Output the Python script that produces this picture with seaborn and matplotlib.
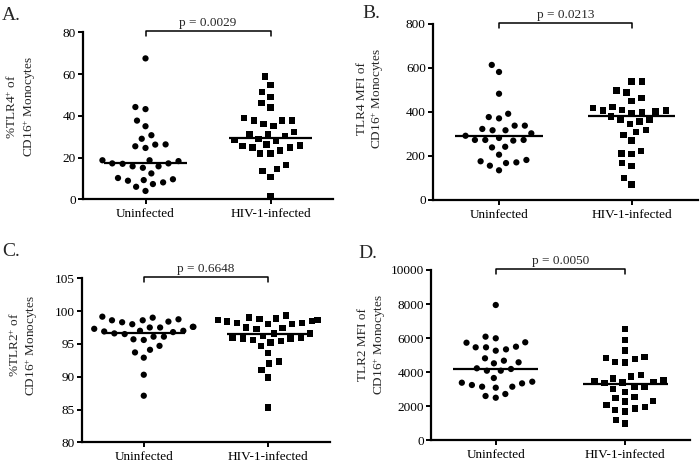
import numpy as np
import pandas as pd
import matplotlib
matplotlib.use("Agg")
import matplotlib.pyplot as plt
import seaborn as sns

sns.set_theme(style="ticks")
plt.rcParams["font.family"] = ["Liberation Serif", "DejaVu Serif"]
plt.rcParams["mathtext.fontset"] = "custom"
plt.rcParams["mathtext.rm"] = "Liberation Serif"
plt.rcParams["mathtext.it"] = "Liberation Serif:italic"
plt.rcParams["mathtext.bf"] = "Liberation Serif:bold"

groups = ["Uninfected", "HIV-1-infected"]

# Panel A: %TLR4+ of CD16+ monocytes
tlr4_pct_uninf = [67.5, 44.2, 43.2, 37.7, 35.0, 30.7, 29.0, 26.3, 26.2, 25.4, 24.6, 18.7, 18.7,
                  18.3, 17.2, 17.2, 17.0, 15.8, 15.8, 15.1, 12.4, 10.2, 9.6, 9.2, 8.9, 8.1, 7.3, 6.0, 4.0]
tlr4_pct_hiv = [58.9, 54.9, 51.4, 49.0, 46.0, 43.9, 38.8, 37.8, 37.7, 37.7, 36.2, 35.1, 32.2, 31.1,
                31.1, 30.3, 29.0, 28.3, 28.1, 26.2, 25.7, 25.4, 24.9, 24.9, 23.3, 21.9, 21.9, 16.3,
                14.4, 13.7, 10.8, 1.7]
tlr4_pct_medians = [17.3, 29.6]

# Panel B: TLR4 MFI
tlr4_mfi_uninf = [614, 582, 483, 392, 377, 371, 338, 338, 323, 317, 317, 303, 292, 282, 273, 273,
                  273, 270, 242, 239, 206, 182, 176, 171, 168, 156, 135]
tlr4_mfi_hiv = [538, 538, 497, 489, 465, 451, 424, 417, 410, 406, 406, 402, 401, 394, 379, 366, 364,
                356, 345, 318, 310, 296, 270, 224, 212, 208, 167, 155, 101, 71]
tlr4_mfi_medians = [291, 380]

# Panel C: %TLR2+
tlr2_pct_uninf = [99.15, 99.0, 98.75, 98.6, 98.6, 98.4, 98.3, 98.0, 97.6, 97.6, 97.5, 97.5, 97.3,
                  97.0, 97.0, 96.9, 96.8, 96.6, 96.5, 96.1, 96.1, 95.7, 95.6, 94.7, 94.1, 93.7,
                  92.9, 90.3, 87.1]
tlr2_pct_hiv = [99.3, 99.0, 98.9, 98.8, 98.6, 98.6, 98.5, 98.4, 98.2, 98.2, 98.0, 98.0, 97.5, 97.4,
                97.3, 96.6, 96.6, 96.2, 95.9, 95.9, 95.8, 95.8, 95.6, 95.4, 95.2, 94.7, 93.6, 92.3,
                92.0, 91.0, 89.85, 85.3]
tlr2_pct_medians = [96.7, 96.5]

# Panel D: TLR2 MFI
tlr2_mfi_uninf = [7945, 6085, 5990, 5755, 5730, 5497, 5460, 5460, 5340, 5262, 4815, 4675, 4580,
                  4520, 4228, 4187, 4087, 4087, 3658, 3440, 3382, 3343, 3247, 3147, 3147, 3089,
                  2719, 2601, 2500]
tlr2_mfi_hiv = [6518, 5890, 5262, 4909, 4850, 4756, 4615, 4557, 3834, 3736, 3640, 3541, 3500, 3440,
                3405, 3347, 3147, 3112, 3012, 2854, 2525, 2466, 2325, 2267, 2073, 1973, 1875, 1779,
                1680, 1194, 978]
tlr2_mfi_medians = [4200, 3300]

p_values = ["p = 0.0029", "p = 0.0213", "p = 0.6648", "p = 0.0050"]
panel_letters = ["A.", "B.", "C.", "D."]
y_labels = ["%TLR4$^{+}$ of\nCD16$^{+}$ Monocytes",
            "TLR4 MFI of\nCD16$^{+}$ Monocytes",
            "%TLR2$^{+}$ of\nCD16$^{+}$ Monocytes",
            "TLR2 MFI of\nCD16$^{+}$ Monocytes"]
y_limits = [(0, 80), (0, 800), (80, 105), (0, 10000)]
y_tick_sets = [[0, 20, 40, 60, 80], [0, 200, 400, 600, 800],
               [80, 85, 90, 95, 100, 105], [0, 2000, 4000, 6000, 8000, 10000]]

series = [(tlr4_pct_uninf, tlr4_pct_hiv, tlr4_pct_medians),
          (tlr4_mfi_uninf, tlr4_mfi_hiv, tlr4_mfi_medians),
          (tlr2_pct_uninf, tlr2_pct_hiv, tlr2_pct_medians),
          (tlr2_mfi_uninf, tlr2_mfi_hiv, tlr2_mfi_medians)]

W, H = 700, 462
fig = plt.figure(figsize=(W / 100, H / 100), dpi=100)

# axes rectangles in pixels: left, top, right, bottom
rects_px = [(83, 32.3, 333, 199.3), (432.7, 24, 698, 200),
            (81.7, 278.3, 330, 442.3), (431, 270, 690, 440.3)]
label_pos = [(-0.246, 0.555), (-0.233, 0.574), (-0.232, 0.593), (-0.226, 0.565)]
letter_pos = [(2, 16), (362, 14), (2, 251), (358, 254)]

for i in range(4):
    l, t, r, b = rects_px[i]
    ax = fig.add_axes([l / W, 1 - b / H, (r - l) / W, (b - t) / H])
    uninf, hiv, meds = series[i]
    df_u = pd.DataFrame({"group": groups[0], "value": uninf})
    df_h = pd.DataFrame({"group": groups[1], "value": hiv})
    sns.swarmplot(data=df_u, x="group", y="value", order=groups, color="black",
                  marker="o", size=4.5, linewidth=2.6, edgecolor="none", ax=ax, zorder=3)
    sns.swarmplot(data=df_h, x="group", y="value", order=groups, color="black",
                  marker="s", size=4.6, linewidth=2.4, edgecolor="none", ax=ax, zorder=3)
    for j, m in enumerate(meds):
        ax.hlines(m, j - 0.33, j + 0.33, color="black", lw=1.6, zorder=4)

    ax.set_xlim(-0.5, 1.5)
    ax.set_ylim(*y_limits[i])
    ax.set_yticks(y_tick_sets[i])
    ax.set_xlabel("")
    ax.set_ylabel(y_labels[i], fontsize=9.5, va="center", ha="center",
                  multialignment="center", linespacing=1.15)
    ax.yaxis.set_label_coords(*label_pos[i])
    sns.despine(ax=ax)
    for s in ["left", "bottom"]:
        ax.spines[s].set_linewidth(1.6)
        ax.spines[s].set_color("black")
    ax.tick_params(axis="both", width=1.4, length=3.5, color="black",
                   labelsize=9.5, labelcolor="black", direction="out")
    ax.tick_params(axis="y", pad=1.5)
    ax.tick_params(axis="x", pad=3)
    ax.set_facecolor("white")

    # significance bracket
    tr = ax.get_xaxis_transform()
    ax.plot([0, 0, 1, 1], [0.975, 1.005, 1.005, 0.975], color="black", lw=1.1,
            transform=tr, clip_on=False)
    ax.annotate(p_values[i], xy=(0.5, 1.005), xycoords=tr, xytext=(0, 1.5),
                textcoords="offset points", ha="center", va="bottom", fontsize=9.5)

    lx, ly = letter_pos[i]
    fig.text(lx / W, 1 - ly / H, panel_letters[i], fontsize=14, ha="left", va="center")

fig.savefig("out.png", dpi=100, facecolor="white")
